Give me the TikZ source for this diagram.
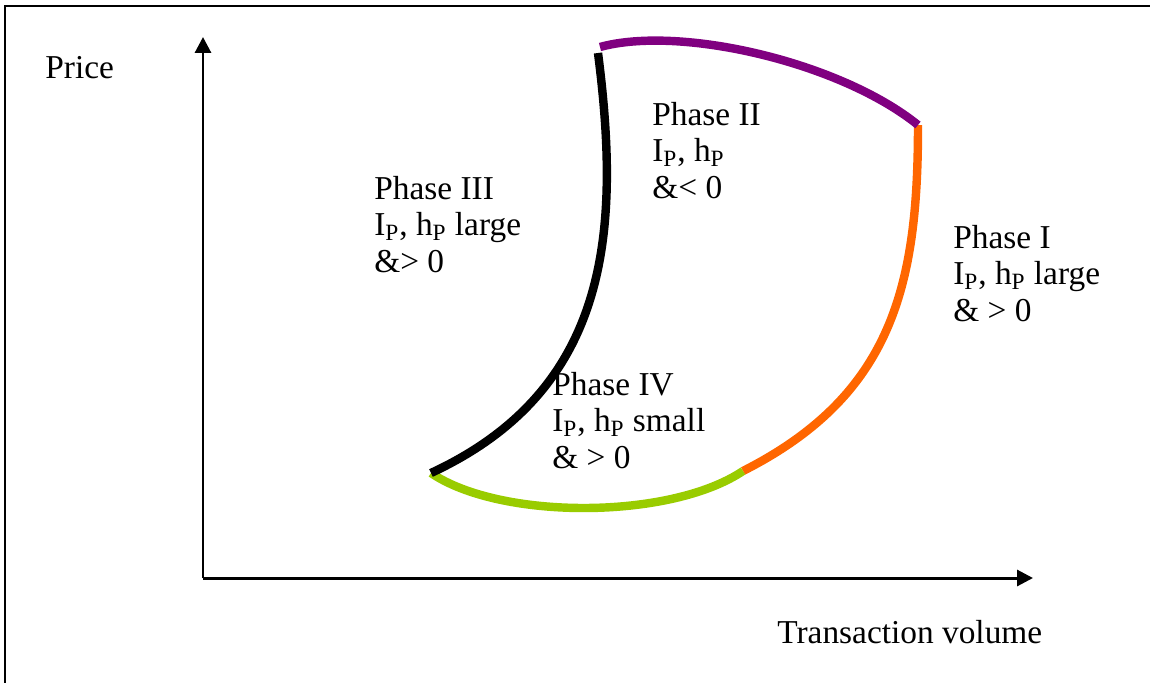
\documentclass[tikz,border=0pt]{standalone}
\usepackage{fontspec}
\setmainfont{Liberation Serif}
\usetikzlibrary{arrows.meta}

\definecolor{phasepurple}{HTML}{800080}
\definecolor{phaseorange}{HTML}{FF6600}
\definecolor{phasegreen}{HTML}{99CC00}

\tikzset{
  label text/.style={inner sep=0pt, anchor=base west, align=left},
  phase curve/.style={line width=4.8pt},
  axis/.style={line width=1.7pt, -{Triangle[length=9pt,width=9pt]}}
}

\begin{document}
\begin{tikzpicture}[x=0.02cm, y=-0.02cm, font=\fontsize{19}{20.6}\selectfont]

\def \sub #1{\textsubscript{#1}}
\def \lines {73} % two lines down: the base anchor sits on the last line

\useasboundingbox (0,0) rectangle (1150,683);
\draw[line width=1.6pt] (5,683) -- (5,6) -- (1150,6);

% axes
\coordinate (o) at (203,578);
\coordinate (ytip) at (203,37);
\coordinate (xtip) at (1033,578);
\draw[axis] (o) -- (ytip);
\draw[axis] (o) -- (xtip);

\node[label text] (price) at (45,78) {Price};
\node[label text] (volume) at (777,643) {Transaction volume};

% corners of the cycle
\coordinate (tl) at (600,47);
\coordinate (tlb) at (598,53);
\coordinate (tr) at (918,125);
\coordinate (br) at (743,471);
\coordinate (bl) at (431,473);

\draw[phase curve, phaseorange] (tr) .. controls (918,285) and (893,395) .. (br);
\draw[phase curve, phasegreen] (bl) .. controls (500,520) and (670,520) .. (br);
\draw[phase curve, black] (tlb) .. controls (621,232) and (610,390) .. (bl);
\draw[phase curve, phasepurple] (tl) .. controls (680,25) and (840,62) .. (tr);

\node[label text] (phaseI) at (953,248+\lines) {Phase I\\I\sub{P}, h\sub{P} large\\\& > 0};
\node[label text] (phaseII) at (652,125+\lines) {Phase II\\I\sub{P}, h\sub{P}\\\&< 0};
\node[label text] (phaseIII) at (374,199+\lines) {Phase III\\I\sub{P}, h\sub{P} large\\\&> 0};
\begin{scope}
  \clip (540,370) rectangle (760,468);
  \node[label text] (phaseIV) at (552,395+\lines) {Phase IV\\I\sub{P}, h\sub{P} small\\\& > 0};
\end{scope}

\end{tikzpicture}
\end{document}
